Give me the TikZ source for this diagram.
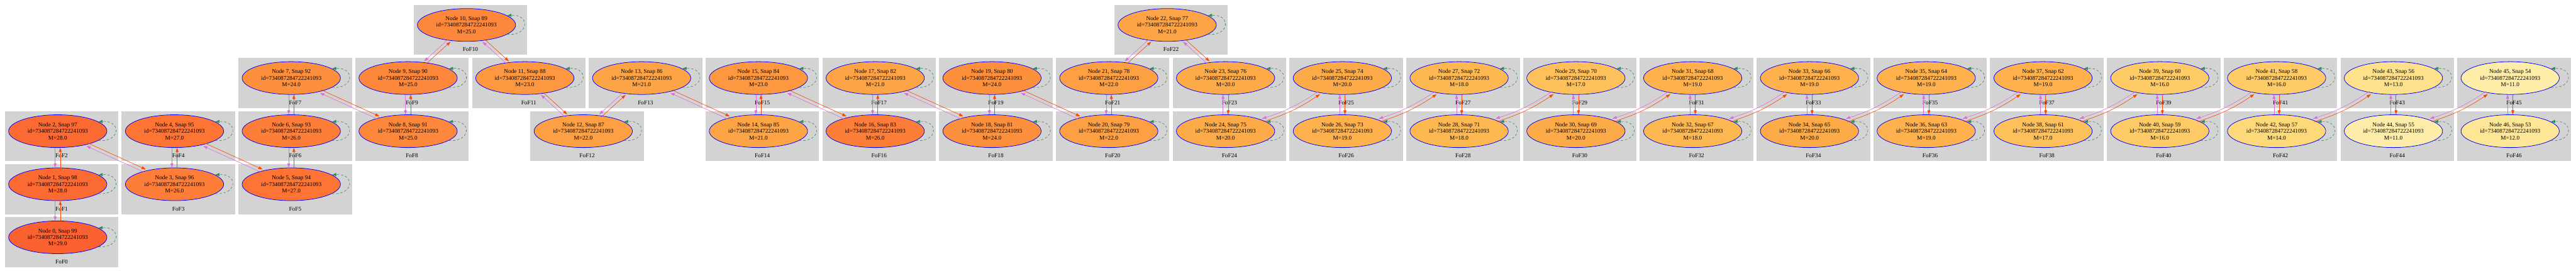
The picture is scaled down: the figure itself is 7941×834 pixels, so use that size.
\documentclass[tikz,border=0pt]{standalone}
\usepackage{fontspec}
\setmainfont{Liberation Serif}
\usepackage{xcolor}
\usepackage{tikz}
\usetikzlibrary{shapes.geometric,arrows.meta}

\definecolor{fofgray}{HTML}{D3D3D3}
\definecolor{progline}{HTML}{DA70D6}
\definecolor{descline}{HTML}{FF4500}
\definecolor{loopline}{HTML}{2E8B57}
% fill by mass
\definecolor{m29}{HTML}{FC6131}
\definecolor{m28}{HTML}{FC6A33}
\definecolor{m27}{HTML}{FD7435}
\definecolor{m26}{HTML}{FD7E38}
\definecolor{m25}{HTML}{FD883B}
\definecolor{m24}{HTML}{FD903D}
\definecolor{m23}{HTML}{FD9840}
\definecolor{m22}{HTML}{FD9F43}
\definecolor{m21}{HTML}{FDA446}
\definecolor{m20}{HTML}{FDAA48}
\definecolor{m19}{HTML}{FEB14C}
\definecolor{m18}{HTML}{FEB852}
\definecolor{m17}{HTML}{FEC05A}
\definecolor{m16}{HTML}{FECB66}
\definecolor{m14}{HTML}{FED97A}
\definecolor{m13}{HTML}{FEE18B}
\definecolor{m12}{HTML}{FEE697}
\definecolor{m11}{HTML}{FEEDA9}

\begin{document}
\begin{tikzpicture}[x=1pt, y=1pt,
    fofbox/.style={rectangle, fill=fofgray, anchor=north west, inner sep=0pt, outer sep=0pt,
      minimum width=350pt, minimum height=154.2pt},
    fofname/.style={font=\fontsize{18}{20}\selectfont, inner sep=0pt},
    halo/.style={ellipse, draw=blue, line width=1.5pt, inner sep=0pt, align=center,
      minimum width=303pt, minimum height=101pt, font=\fontsize{18}{20}\selectfont},
    prog/.style={draw=progline, line width=1.2pt, -{Triangle[length=13pt, width=9pt]}},
    desc/.style={draw=descline, line width=1.2pt, -{Triangle[length=13pt, width=9pt]}},
    selfloop/.style={draw=loopline, line width=1.2pt, dash pattern=on 7pt off 6pt,
      -{Triangle[length=13pt, width=9pt]}}]
                \useasboundingbox (0,0) rectangle (7941,-834);

                % clusters and nodes: index / column / row / mass
                \foreach \i/\c/\r/\m in {0/0/4/29, 1/0/3/28, 2/0/2/28, 3/1/3/26, 4/1/2/27,
                    5/2/3/27, 6/2/2/26, 7/2/1/24, 8/3/2/25, 9/3/1/25, 10/3.5/0/25,
                    11/4/1/23, 12/4.5/2/22, 13/5/1/21, 14/6/2/21, 15/6/1/23, 16/7/2/26,
                    17/7/1/21, 18/8/2/24, 19/8/1/24, 20/9/2/22, 21/9/1/22, 22/9.5/0/21,
                    23/10/1/20, 24/10/2/20, 25/11/1/20, 26/11/2/19, 27/12/1/18, 28/12/2/18,
                    29/13/1/17, 30/13/2/20, 31/14/1/19, 32/14/2/18, 33/15/1/19, 34/15/2/20,
                    35/16/1/19, 36/16/2/19, 37/17/1/19, 38/17/2/17, 39/18/1/16, 40/18/2/16,
                    41/19/1/16, 42/19/2/14, 43/20/1/13, 44/20/2/11, 45/21/1/11, 46/21/2/12} {
                    \pgfmathsetmacro\bx{15+360*\c}
                    \pgfmathsetmacro\by{-15-163.7*\r}
                    \pgfmathtruncatemacro\s{99-\i}
                    \node[fofbox] (c\i) at (\bx,\by) {};
                    \node[fofname] (f\i) at (\bx+175,\by-138) {FoF\i};
                    \node[halo, fill=m\m] (n\i) at (\bx+163,\by-62)
                        {Node \i, Snap \s\\id=734087284722241093\\M=\m.0};
                }

                % straight links: red i -> i+1, violet i+1 -> i
                \foreach \a/\b/\sx/\sy in {0/1/8/0, 1/2/8/0, 2/3/2/4.6, 3/4/8/0, 4/5/2/4.6,
                    5/6/8/0, 6/7/8/0, 7/8/2/4.6, 8/9/8/0, 9/10/3.4/-3.7, 10/11/3.4/3.7,
                    11/12/3.4/3.7, 12/13/3.4/-3.7, 13/14/2/4.6, 14/15/8/0, 15/16/2/4.6,
                    16/17/8/0, 17/18/2/4.6, 18/19/8/0, 19/20/2/4.6, 20/21/8/0,
                    21/22/3.4/-3.7, 22/23/3.4/3.7, 23/24/8/0, 25/26/8/0, 27/28/8/0,
                    29/30/8/0, 31/32/8/0, 33/34/8/0, 35/36/8/0, 37/38/8/0, 39/40/8/0,
                    41/42/8/0, 43/44/8/0, 45/46/8/0} {
                    \pgfmathsetmacro\tx{-(\sx)}
                    \pgfmathsetmacro\ty{-(\sy)}
                    \draw[desc, transform canvas={shift={(\sx,\sy)}}] (n\a) -- (n\b);
                    \draw[prog, transform canvas={shift={(\tx,\ty)}}] (n\b) -- (n\a);
                }

                % bent links in the right part
                \foreach \a in {24,26,...,44} {
                    \pgfmathtruncatemacro\b{\a+1}
                    \draw[desc, transform canvas={shift={(2,-4.6)}}] (n\a) to[bend right=8] (n\b);
                    \draw[prog, transform canvas={shift={(-2,4.6)}}] (n\b) to[bend left=8] (n\a);
                }

                % self links
                \foreach \i in {0,...,46}
                    \draw[selfloop] (n\i.-13) .. controls +(70,-5) and +(70,5) .. (n\i.13);
            \end{tikzpicture}
\end{document}
